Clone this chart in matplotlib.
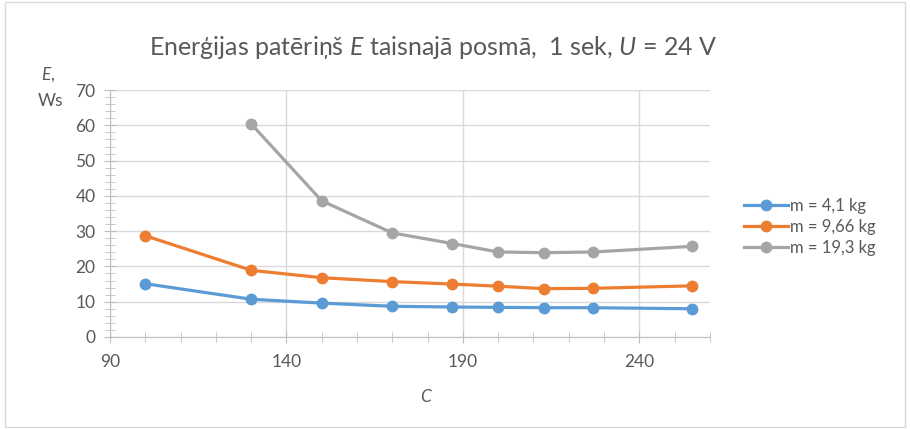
import matplotlib
matplotlib.use("Agg")
import matplotlib.pyplot as plt
from matplotlib.patches import Rectangle
from matplotlib.ticker import MultipleLocator, FixedLocator

plt.rcParams['font.family'] = ['Lato', 'DejaVu Sans']
plt.rcParams['mathtext.fontset'] = 'custom'
plt.rcParams['mathtext.rm'] = 'Lato'
plt.rcParams['mathtext.it'] = 'Lato:italic'

x_c = [100, 130, 150, 170, 187, 200, 213, 227, 255]
e_m41 = [15.1, 10.7, 9.6, 8.7, 8.5, 8.4, 8.3, 8.3, 8.0]
e_m966 = [28.7, 18.9, 16.8, 15.7, 15.0, 14.4, 13.7, 13.8, 14.5]
x_c_heavy = [130, 150, 170, 187, 200, 213, 227, 255]
e_m193 = [60.4, 38.6, 29.5, 26.5, 24.1, 23.9, 24.1, 25.7]
labels = ["m = 4,1 kg", "m = 9,66 kg", "m = 19,3 kg"]
colors = ["#5B9BD5", "#ED7D31", "#A5A5A5"]

txt = "#595959"
grid = "#D9D9D9"
axc = "#BFBFBF"

fig = plt.figure(figsize=(9.1, 4.29), dpi=100)
fig.patches.append(Rectangle((0.006, 0.005), 0.988, 0.99, transform=fig.transFigure,
                             fill=False, edgecolor="#D9D9D9", linewidth=1))
ax = fig.add_axes([0.121, 0.2145, 0.659, 0.5755])

series = [(x_c, e_m41), (x_c, e_m966), (x_c_heavy, e_m193)]
for (xs, ys), lab, col in zip(series, labels, colors):
    ax.plot(xs, ys, color=col, lw=2.3, marker='o', markersize=7.5, label=lab)

ax.set_xlim(90, 260)
ax.set_ylim(0, 70)
ax.xaxis.set_major_locator(FixedLocator([90, 140, 190, 240]))
ax.xaxis.set_minor_locator(MultipleLocator(10))
ax.yaxis.set_major_locator(MultipleLocator(10))
ax.yaxis.set_minor_locator(MultipleLocator(2))
ax.grid(True, which='major', color=grid, lw=1)
ax.set_axisbelow(True)
for s in ['top', 'right']:
    ax.spines[s].set_visible(False)
for s in ['left', 'bottom']:
    ax.spines[s].set_color(axc)
ax.tick_params(which='both', direction='inout', color=axc, labelcolor=txt, labelsize=12.5)
ax.tick_params(which='major', length=9)
ax.tick_params(which='minor', length=7)
ax.tick_params(axis='x', pad=8)
ax.tick_params(axis='y', pad=6)

fig.text(0.476, 0.89, "Enerģijas patēriņš $E$ taisnajā posmā,  1 sek, $U$ = 24 V",
         ha='center', va='center', fontsize=18, color=txt)
fig.text(0.469, 0.075, "$C$", ha='center', va='center', fontsize=12.5, color=txt)
fig.text(0.053, 0.825, "$E$,", ha='center', va='center', fontsize=12.5, color=txt)
fig.text(0.056, 0.765, "Ws", ha='center', va='center', fontsize=12.5, color=txt)

leg = fig.legend(loc='center left', bbox_to_anchor=(0.818, 0.472), frameon=False,
                 fontsize=12, labelcolor=txt, handlelength=2.6, handletextpad=0.15,
                 labelspacing=0.3, borderaxespad=0, borderpad=0)

fig.savefig("out.png", dpi=100)
